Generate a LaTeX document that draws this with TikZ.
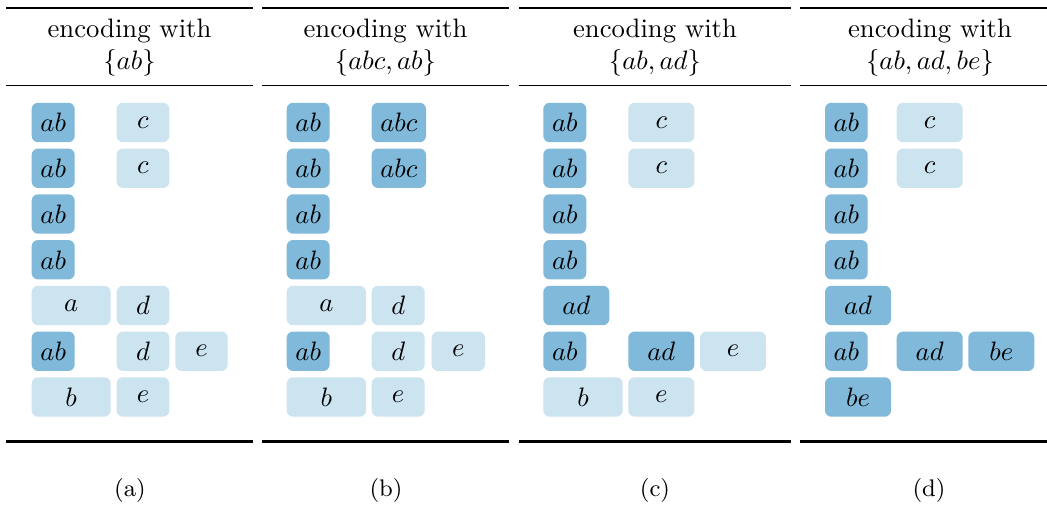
\documentclass[tikz,border=0pt]{standalone}
\usepackage{fontspec}
\definecolor{dk}{RGB}{128,185,218}
\definecolor{lt}{RGB}{204,227,240}
\tikzset{
  cellbox/.style={rounded corners=2.4pt, inner sep=0pt, minimum height=14.8pt, text=black},
  dkbox/.style={cellbox, fill=dk},
  ltbox/.style={cellbox, fill=lt},
  toprl/.style={line width=0.8pt},
  midrl/.style={line width=0.5pt},
  headtxt/.style={anchor=base, inner sep=0pt},
  captxt/.style={anchor=base, inner sep=0pt, font=\small},
}
% \bx{style}{name}{x1}{x2}{yc}{text}
\newcommand\bx[6]{\node[#1, minimum width={(#4-#3)*0.375pt}] (#2) at ({(#3+#4)/2},#5) {$#6$};}
\begin{document}
\begin{tikzpicture}[x=0.375pt,y=-0.375pt]
\useasboundingbox (0,0) rectangle (1047,506);
% rules
\foreach \xa/\xb in {6/253, 262/509.3, 518.7/791, 800/1047}{
  \draw[toprl] (\xa,7.7) -- (\xb,7.7);
  \draw[midrl] (\xa,85.7) -- (\xb,85.7);
  \draw[toprl] (\xa,441.5) -- (\xb,441.5);
}
% headers
\node[headtxt] (ha1) at (129.5,37.3) {encoding with};
\node[headtxt] (ha2) at (129.5,69.3) {$\{ab\}$};
\node[headtxt] (hb1) at (385.5,37.3) {encoding with};
\node[headtxt] (hb2) at (385.5,69.3) {$\{abc,ab\}$};
\node[headtxt] (hc1) at (655,37.3) {encoding with};
\node[headtxt] (hc2) at (655,69.3) {$\{ab,ad\}$};
\node[headtxt] (hd1) at (930,37.3) {encoding with};
\node[headtxt] (hd2) at (930,69.3) {$\{ab,ad,be\}$};
% captions
\node[captxt] (ca) at (130,496.5) {(a)};
\node[captxt] (cb) at (386,496.5) {(b)};
\node[captxt] (cc) at (655,496.5) {(c)};
\node[captxt] (cd) at (929,496.5) {(d)};
% panel a
\bx{dkbox}{a11}{31.7}{74.7}{122.5}{ab}
\bx{ltbox}{a12}{116.7}{169.3}{122.5}{c}
\bx{dkbox}{a21}{31.7}{74.7}{168.25}{ab}
\bx{ltbox}{a22}{116.7}{169.3}{168.25}{c}
\bx{dkbox}{a31}{31.7}{74.7}{214}{ab}
\bx{dkbox}{a41}{31.7}{74.7}{259.75}{ab}
\bx{ltbox}{a51}{31.7}{110.7}{305.5}{a}
\bx{ltbox}{a52}{116.7}{169.3}{305.5}{d}
\bx{dkbox}{a61}{31.7}{74.7}{351.25}{ab}
\bx{ltbox}{a62}{116.7}{169.3}{351.25}{d}
\bx{ltbox}{a63}{175.3}{227.7}{351.25}{e}
\bx{ltbox}{a71}{31.7}{110.7}{397}{b}
\bx{ltbox}{a72}{116.7}{169.3}{397}{e}
% panel b
\bx{dkbox}{b11}{286.7}{329.7}{122.5}{ab}
\bx{dkbox}{b12}{371.7}{426}{122.5}{abc}
\bx{dkbox}{b21}{286.7}{329.7}{168.25}{ab}
\bx{dkbox}{b22}{371.7}{426}{168.25}{abc}
\bx{dkbox}{b31}{286.7}{329.7}{214}{ab}
\bx{dkbox}{b41}{286.7}{329.7}{259.75}{ab}
\bx{ltbox}{b51}{286.7}{366}{305.5}{a}
\bx{ltbox}{b52}{371.7}{424.7}{305.5}{d}
\bx{dkbox}{b61}{286.7}{329.7}{351.25}{ab}
\bx{ltbox}{b62}{371.7}{424.7}{351.25}{d}
\bx{ltbox}{b63}{431.7}{485}{351.25}{e}
\bx{ltbox}{b71}{286.7}{366}{397}{b}
\bx{ltbox}{b72}{371.7}{424.7}{397}{e}
% panel c
\bx{dkbox}{c11}{543.3}{586.3}{122.5}{ab}
\bx{ltbox}{c12}{628.3}{694.3}{122.5}{c}
\bx{dkbox}{c21}{543.3}{586.3}{168.25}{ab}
\bx{ltbox}{c22}{628.3}{694.3}{168.25}{c}
\bx{dkbox}{c31}{543.3}{586.3}{214}{ab}
\bx{dkbox}{c41}{543.3}{586.3}{259.75}{ab}
\bx{dkbox}{c51}{543.3}{609.3}{305.5}{ad}
\bx{dkbox}{c61}{543.3}{586.3}{351.25}{ab}
\bx{dkbox}{c62}{628.3}{694.3}{351.25}{ad}
\bx{ltbox}{c63}{700}{766}{351.25}{e}
\bx{ltbox}{c71}{543.3}{622.7}{397}{b}
\bx{ltbox}{c72}{628.3}{694.3}{397}{e}
% panel d
\bx{dkbox}{d11}{825}{867.7}{122.5}{ab}
\bx{ltbox}{d12}{896.7}{962.7}{122.5}{c}
\bx{dkbox}{d21}{825}{867.7}{168.25}{ab}
\bx{ltbox}{d22}{896.7}{962.7}{168.25}{c}
\bx{dkbox}{d31}{825}{867.7}{214}{ab}
\bx{dkbox}{d41}{825}{867.7}{259.75}{ab}
\bx{dkbox}{d51}{825}{891}{305.5}{ad}
\bx{dkbox}{d61}{825}{867.7}{351.25}{ab}
\bx{dkbox}{d62}{896.7}{962.7}{351.25}{ad}
\bx{dkbox}{d63}{968.3}{1034.3}{351.25}{be}
\bx{dkbox}{d71}{825}{891}{397}{be}
\end{tikzpicture}
\end{document}
